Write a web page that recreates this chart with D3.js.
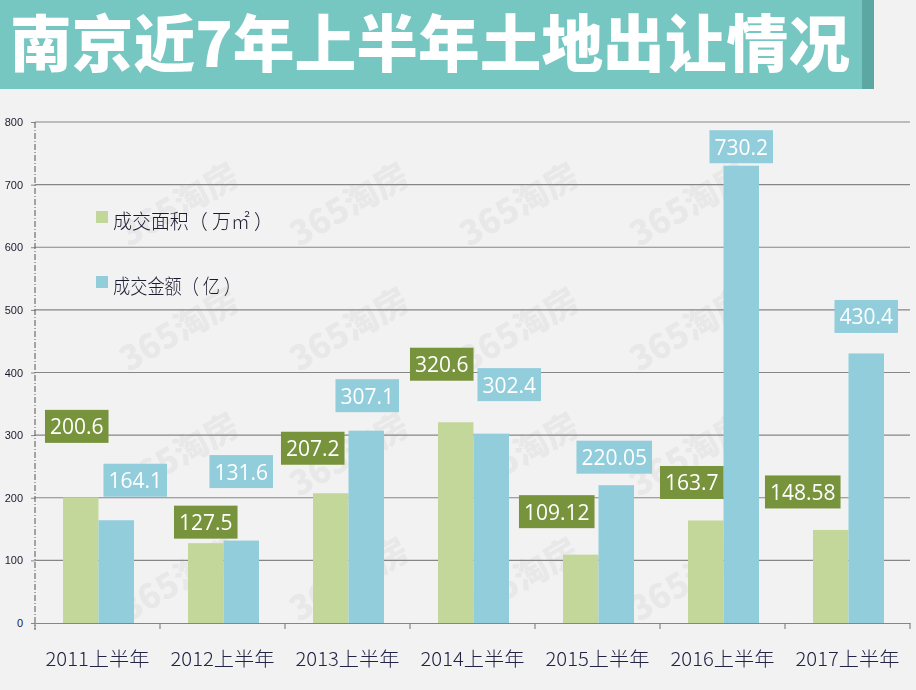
<!DOCTYPE html>
<html><head><meta charset="utf-8">
<script src="https://cdn.jsdelivr.net/npm/d3@7"></script>
<style>html,body{margin:0;padding:0;background:#F2F2F2;}svg{display:block;}</style>
</head><body>
<script>
const categories = ["2011上半年","2012上半年","2013上半年","2014上半年","2015上半年","2016上半年","2017上半年"];
const areaValues = [200.6, 127.5, 207.2, 320.6, 109.12, 163.7, 148.58];
const amountValues = [164.1, 131.6, 307.1, 302.4, 220.05, 730.2, 430.4];
const areaLabels = ["200.6","127.5","207.2","320.6","109.12","163.7","148.58"];
const amountLabels = ["164.1","131.6","307.1","302.4","220.05","730.2","430.4"];
const seriesNames = ["成交面积（ 万㎡ ）","成交金额（ 亿 ）"];
const yTicks = [0,100,200,300,400,500,600,700,800];
const titleText = "南京近7年上半年土地出让情况";
// label box offsets relative to bar top-centre (layout, not data)
const areaLabelShift = [[-4,-71],[0,-21],[-18,-45],[-14,-58],[-24,-43],[-14,-38],[-28,-38]];
const amountLabelShift = [[19,-40],[0,-69],[1,-35],[18,-49],[-2,-28],[0,-19],[0,-37]];

const W = 916, H = 690;
const green = "#C4D79B", blue = "#92CDDC", dGreen = "#77933C";
const svg = d3.select("body").append("svg").attr("width", W).attr("height", H);
svg.append("rect").attr("width", W).attr("height", H).attr("fill", "#F2F2F2");

// watermarks
const wm = svg.append("g").attr("fill", "#000").attr("opacity", 0.04)
  .attr("font-family", "Noto Sans CJK SC").attr("font-weight", 900).attr("font-size", 34);
[215,340,465,590].forEach((yy) => {
  [185,355,525,695].forEach(xx => {
    wm.append("text").attr("x", 0).attr("y", 0).attr("text-anchor","middle")
      .attr("transform", `translate(${xx},${yy}) rotate(-30)`).text("365淘房");
  });
});

// title banner
svg.append("rect").attr("x", 0).attr("y", 0).attr("width", 862).attr("height", 89).attr("fill", "#76C6C2");
svg.append("rect").attr("x", 862).attr("y", 0).attr("width", 12).attr("height", 89).attr("fill", "#5CA7A2");
svg.append("text").attr("x", 10).attr("y", 67).attr("fill", "#fff")
  .attr("font-family", "Noto Sans CJK SC").attr("font-weight", 900).attr("font-size", 62)
  .attr("textLength", 840).attr("lengthAdjust", "spacingAndGlyphs").text(titleText);

const y = d3.scaleLinear().domain([0,800]).range([623,122]);
const x = d3.scaleBand().domain(categories).range([35,910]).padding(0);
const xs = d3.scaleBand().domain([0,1]).range([28,99]).padding(0);

// gridlines
svg.append("g").selectAll("line").data(yTicks.filter(d => d > 0)).join("line")
  .attr("x1", 35).attr("x2", 910).attr("y1", d => y(d)).attr("y2", d => y(d))
  .attr("stroke", "#868686").attr("stroke-width", 1.2);

// y axis
const yAxis = svg.append("g").attr("transform", "translate(35,0)")
  .call(d3.axisLeft(y).tickValues(yTicks).tickSize(4).tickPadding(8));
yAxis.select(".domain").remove();
yAxis.selectAll(".tick line").attr("stroke", "#868686");
yAxis.selectAll(".tick text").attr("font-family", "Liberation Sans, Arial").attr("font-size", 11).attr("fill", "#1a1a2e");
svg.append("line").attr("x1", 35).attr("x2", 35).attr("y1", 122).attr("y2", 630)
  .attr("stroke", "#555").attr("stroke-width", 1).attr("stroke-dasharray", "6,2,1,2");

// bars
const bars = svg.append("g");
categories.forEach((c,i) => {
  [[areaValues[i], green, 0],[amountValues[i], blue, 1]].forEach(([v,col,s]) => {
    bars.append("rect").attr("x", x(c) + xs(s)).attr("width", xs.bandwidth())
      .attr("y", y(v)).attr("height", y(0) - y(v)).attr("fill", col);
  });
});

// x axis
const xAxis = svg.append("g").attr("transform", "translate(0,623)")
  .call(d3.axisBottom(x).tickSize(0).tickPadding(30));
xAxis.select(".domain").attr("stroke", "#868686").attr("stroke-width", 1.2);
xAxis.selectAll(".tick text").attr("font-family", "Noto Sans CJK SC").attr("font-size", 19)
  .attr("font-weight", 300)
  .attr("fill", "#222244").attr("textLength", 104).attr("lengthAdjust", "spacingAndGlyphs");
svg.append("g").selectAll("line").data(categories.concat(["end"])).join("line")
  .attr("x1", (d,i) => i < categories.length ? x(d) : x.range()[1])
  .attr("x2", (d,i) => i < categories.length ? x(d) : x.range()[1])
  .attr("y1", 623).attr("y2", 629).attr("stroke", "#868686").attr("stroke-width", 1.2);

// labels
const lab = svg.append("g");
function addLabel(cx, topY, shift, txt, fill) {
  const g = lab.append("g");
  const t = g.append("text").attr("x", cx + shift[0]).attr("y", topY + shift[1] + 8)
    .attr("text-anchor", "middle").attr("font-family", "Open Sans").attr("font-size", 21)
    .attr("fill", "#fff").text(txt);
  const w = t.node().getComputedTextLength() + 10;
  g.insert("rect", "text").attr("x", cx + shift[0] - w/2).attr("y", topY + shift[1] - 16.5)
    .attr("width", w).attr("height", 33).attr("fill", fill);
}
categories.forEach((c,i) => {
  addLabel(x(c) + xs(0) + xs.bandwidth()/2, y(areaValues[i]), areaLabelShift[i], areaLabels[i], dGreen);
  addLabel(x(c) + xs(1) + xs.bandwidth()/2, y(amountValues[i]), amountLabelShift[i], amountLabels[i], blue);
});

// legend
const leg = svg.append("g");
[[green, 217, 160],[blue, 282, 128]].forEach(([col, cy, tl], k) => {
  leg.append("rect").attr("x", 96).attr("y", cy - 6).attr("width", 12).attr("height", 12).attr("fill", col);
  leg.append("text").attr("x", 113).attr("y", cy + 12).attr("font-family", "Noto Sans CJK SC")
    .attr("font-size", 20).attr("font-weight", 300).attr("fill", "#1a1a2e")
    .attr("textLength", tl).attr("lengthAdjust", "spacingAndGlyphs").text(seriesNames[k]);
});
</script>
</body></html>
